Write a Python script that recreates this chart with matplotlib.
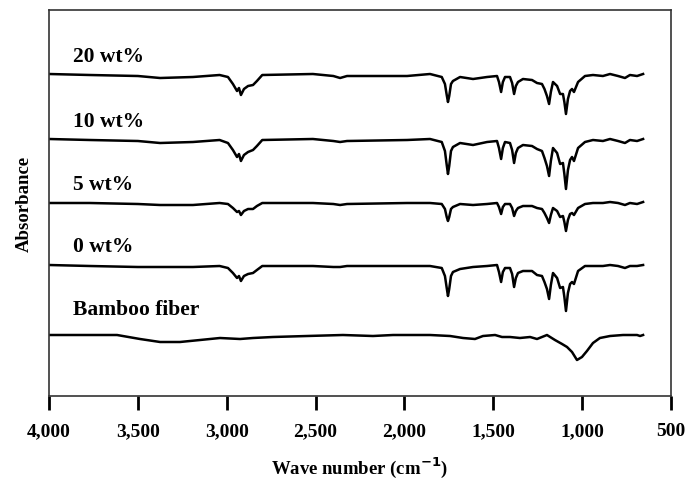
import matplotlib.pyplot as plt
from matplotlib.ticker import FuncFormatter, MultipleLocator

plt.rcParams['font.family'] = ['Liberation Serif', 'DejaVu Serif']
plt.rcParams['font.weight'] = 'bold'

# wave numbers shared by the four composite spectra (cm-1)
wn = [4000, 3770, 3500, 3375, 3190, 3040,
      2993, 2965, 2942, 2931, 2920, 2903,
      2880, 2852, 2830, 2800, 2515, 2400,
      2362, 2323, 1985, 1856, 1790, 1772,
      1762, 1755, 1748, 1738, 1727, 1687,
      1614, 1535, 1479, 1468, 1456, 1446,
      1434, 1406, 1394, 1383, 1373, 1361,
      1333, 1282, 1254, 1226, 1212, 1198,
      1186, 1176, 1164, 1141, 1124, 1108,
      1100, 1091, 1080, 1068, 1057, 1046,
      1023, 984, 939, 883, 843, 798,
      759, 731, 691, 657]

ab_20 = [1, 0, -1, -3, -2, 0,
         -2, -9, -16, -13, -20, -14,
         -11, -10, -6, 0, 1, -1,
         -3, -1, -1, 1, -2, -9,
         -20, -27, -21, -9, -6, -2,
         -4, -2, -1, -7, -17, -7,
         -2, -2, -8, -19, -11, -7,
         -4, -5, -8, -9, -14, -21,
         -29, -17, -7, -11, -19, -19,
         -27, -39, -24, -16, -14, -17,
         -7, -1, 0, -1, 1, -1,
         -3, 0, -1, 1]

ab_10 = [1, 0, -1, -3, -2, 0,
         -3, -10, -17, -14, -21, -15,
         -12, -10, -6, 0, 1, -1,
         -2, -1, 0, 1, -2, -11,
         -25, -34, -26, -11, -7, -3,
         -5, -2, -1, -8, -19, -8,
         -2, -3, -10, -23, -13, -8,
         -5, -6, -9, -11, -18, -26,
         -36, -21, -8, -13, -24, -23,
         -34, -49, -30, -20, -17, -21,
         -8, -2, 0, -1, 1, -1,
         -3, 0, -1, 1]

ab_5 = [0, 0, -1, -2, -2, 0,
        -1, -5, -9, -8, -12, -8,
        -6, -6, -3, 0, 0, -1,
        -2, -1, 0, 0, -1, -6,
        -14, -18, -14, -6, -4, -1,
        -2, -1, 0, -4, -11, -4,
        -1, -1, -5, -13, -8, -5,
        -3, -3, -5, -6, -10, -15,
        -20, -12, -5, -8, -14, -13,
        -19, -28, -17, -11, -10, -12,
        -5, -1, 0, 0, 1, 0,
        -2, 0, -1, 1]

ab_0 = [1, 0, -1, -1, -1, 0,
        -2, -7, -12, -10, -15, -10,
        -8, -7, -4, 0, 0, -1,
        -1, 0, 0, 0, -2, -10,
        -22, -30, -23, -10, -6, -3,
        -1, 0, 1, -6, -16, -6,
        -2, -2, -8, -21, -12, -7,
        -5, -5, -9, -10, -16, -23,
        -33, -19, -7, -12, -22, -21,
        -31, -45, -27, -18, -16, -18,
        -5, 0, 0, 0, 1, 0,
        -2, 0, 0, 1]

wn_bf = [4000, 3617, 3488, 3375, 3263, 3150, 3038, 2925, 2852, 2740, 2548,
         2346, 2177, 2064, 1856, 1743, 1670, 1603, 1558, 1490, 1451, 1406,
         1350, 1293, 1254, 1198, 1153, 1113, 1085, 1057, 1029, 1001, 973,
         939, 900, 843, 770, 691, 674, 657]
ab_bf = [0, 0, -4, -7, -7, -5, -3, -4, -3, -2, -1,
         0, -1, 0, 0, -1, -3, -4, -1, 0, -2, -2,
         -3, -2, -4, 0, -5, -9, -12, -17, -25, -22, -16,
         -8, -3, -1, 0, 0, -1, 0]

labels = ['20 wt%', '10 wt%', '5 wt%', '0 wt%', 'Bamboo fiber']
offsets = [321, 256, 193, 130, 61]
label_y = [330, 265, 202, 140, 77]
spectra = [(wn, ab_20), (wn, ab_10), (wn, ab_5), (wn, ab_0), (wn_bf, ab_bf)]

fig = plt.figure(figsize=(6.89, 4.81), dpi=100)
ax = fig.add_axes([49 / 689, 84 / 481, 622 / 689, 386 / 481])

for (x, y), off, lab, ly in zip(spectra, offsets, labels, label_y):
    ax.plot(x, [v + off for v in y], color='black', lw=1.8)
    ax.text(3865, ly, lab, fontsize=15.5, fontweight='bold', ha='left', va='bottom')

ax.set_xlim(4000, 500)
ax.set_ylim(0, 386)
ax.xaxis.set_major_locator(MultipleLocator(500))
ax.xaxis.set_major_formatter(FuncFormatter(lambda v, p: '{:,}'.format(int(v))))
ax.set_yticks([])
ax.tick_params(axis='x', direction='out', length=10, width=2, labelsize=14, pad=9)
for lab in ax.get_xticklabels():
    lab.set_fontweight('bold')
for sp in ax.spines.values():
    sp.set_linewidth(1.2)
    sp.set_color('#333333')

ax.set_xlabel('Wave number (cm$^{\\mathbf{-1}}$)', fontsize=13.5, fontweight='bold', labelpad=11)
ax.set_ylabel('Absorbance', fontsize=13.5, fontweight='bold', labelpad=12)

fig.savefig('out.png', dpi=100)
